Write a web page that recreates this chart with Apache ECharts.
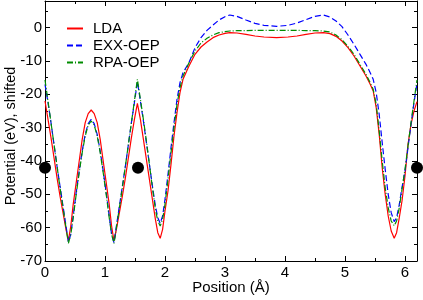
<!DOCTYPE html>
<html><head><meta charset="utf-8">
<script src="https://cdn.jsdelivr.net/npm/echarts@6/dist/echarts.min.js"></script>
<style>html,body{margin:0;padding:0;background:#fff}#c{width:423px;height:300px}</style>
</head><body><div id="c"></div>
<script>
// Position (Å) grid shared by the three curves
const positions = [
  0, 0.05, 0.1, 0.15, 0.2, 0.25, 0.3, 0.35, 0.39, 0.43, 0.47, 0.52, 0.57, 0.62, 0.67, 0.72, 0.77,
  0.82, 0.87, 0.92, 0.97, 1.02, 1.07, 1.11, 1.15, 1.19, 1.24, 1.29, 1.34, 1.39, 1.44, 1.49, 1.54,
  1.59, 1.64, 1.69, 1.74, 1.79, 1.84, 1.88, 1.92, 1.96, 2.0, 2.05, 2.1, 2.15, 2.2, 2.25, 2.3, 2.4, 2.5, 2.6,
  2.7, 2.8, 2.9, 3.0, 3.08, 3.2, 3.35, 3.5, 3.65, 3.86, 4.05, 4.2, 4.35, 4.5, 4.64, 4.75, 4.85, 4.95,
  5.05, 5.15, 5.25, 5.35, 5.42,
  5.47, 5.52, 5.57, 5.62, 5.67, 5.72, 5.77, 5.82, 5.86, 5.9, 5.95, 6.0, 6.05, 6.1, 6.15, 6.2
];
const lda = [
  -22, -27.5, -33, -39, -45, -50.5, -55.5, -60.5, -63.8, -59.5, -53, -46.5, -40, -33.5, -28.5, -25.8, -24.7,
  -25.8, -28.5, -33.5, -40, -46.5, -53, -59.5, -64, -60.5, -55.5, -50.5, -45, -39, -33, -27.5, -22.7,
  -27.5, -33.5, -39.5, -45.5, -51.5, -57.5, -61.5, -63.2, -60.5, -55, -49, -41, -32.5, -25.5, -19.5, -15.5, -11.5, -8, -5.8,
  -4.3, -3.0, -2.2, -1.7, -1.5, -1.6, -2.0, -2.5, -2.8, -3.0, -2.8, -2.5, -2.0, -1.6, -1.5, -1.8, -2.6, -4.0,
  -6.0, -8.5, -11.5, -14.5, -17,
  -19, -24, -32, -42, -50, -56.5, -61, -63.2, -61.5, -57.5, -52, -44.5, -35, -29, -25, -22.2
];
const exx = [
  -17, -22.5, -28.5, -35, -41.5, -47.5, -53.5, -59.5, -64.3, -62, -56.5, -49.5, -43, -37, -32, -28.8, -27.5,
  -28.8, -32, -37, -43, -49.5, -56.5, -62, -64.5, -59.5, -53.5, -47.5, -41.5, -35, -28.5, -22.5, -16.2,
  -22, -28, -34.5, -41, -47.5, -53.5, -57, -58.7, -56.5, -51.5, -44, -36, -28.5, -21.5, -16.5, -13.5, -10.5, -6, -3,
  -0.8, 0.8, 2.3, 3.3, 3.8, 3.4, 2.3, 1.3, 0.7, 0.4, 0.7, 1.4, 2.4, 3.4, 3.8, 3.2, 2.0, 0.3,
  -2.2, -5, -8, -11, -13.5,
  -15.5, -19.5, -26, -34.5, -42.5, -50, -55.5, -58.2, -57, -53.5, -48, -43, -36, -29, -22.5, -16.7
];
const rpa = [
  -15.7, -22, -28.5, -35, -41.5, -48, -54, -60, -64.7, -62, -57, -50, -43.5, -37.5, -32.5, -29.2, -28,
  -29.2, -32.5, -37.5, -43.5, -50, -57, -62, -64.7, -60, -54, -48, -41.5, -35, -28.5, -22, -15.5,
  -21.5, -27.5, -34, -41, -48, -54.5, -58, -59.5, -57.5, -53, -45.5, -37.5, -30, -23, -18, -14.5, -10.5, -7, -4.6,
  -3.2, -2.2, -1.5, -1.2, -1.0, -0.9, -0.9, -0.8, -0.8, -0.8, -0.8, -0.8, -0.9, -0.9, -1.0, -1.3, -2.2, -3.6,
  -5.6, -8, -11, -14, -16.5,
  -18.5, -23, -31, -40, -48, -54, -58, -59.4, -58, -54.5, -48.5, -42.5, -35.5, -28.5, -22, -15.7
];
// atom positions (black dots)
const atomX = [0, 1.55, 6.2];
const atomY = [-42, -42, -42];
// axis ticks
const xTickLabels = [0, 1, 2, 3, 4, 5, 6];
const yTickLabels = [-70, -60, -50, -40, -30, -20, -10, 0];

const FONT = '"Liberation Sans", Arial, Helvetica, sans-serif';
const pairs = ys => positions.map((x, i) => [x, ys[i]]);

function xAx(pos, interval, len, labels, name) {
  return {
    type: 'value', position: pos, min: 0, max: 6.2, interval: interval,
    axisLine: { show: interval === 1, onZero: false, lineStyle: { color: '#000', width: 1 } },
    axisTick: { show: true, inside: true, length: len, lineStyle: { color: '#000', width: 1 } },
    axisLabel: labels ? {
      show: true, fontSize: 15, color: '#000', fontFamily: FONT, margin: 4,
      formatter: v => xTickLabels.indexOf(v) >= 0 ? String(v) : ''
    } : { show: false },
    splitLine: { show: false },
    name: name || '', nameLocation: 'middle', nameGap: 19, nameMoveOverlap: false,
    nameTextStyle: { fontSize: 15, color: '#000', fontFamily: FONT }
  };
}
function yAx(pos, interval, len, labels, name) {
  return {
    type: 'value', position: pos, min: -70, max: 8, interval: interval,
    axisLine: { show: interval === 10, onZero: false, lineStyle: { color: '#000', width: 1 } },
    axisTick: { show: true, inside: true, length: len, lineStyle: { color: '#000', width: 1 } },
    axisLabel: labels ? {
      show: true, fontSize: 15, color: '#000', fontFamily: FONT, margin: 3,
      formatter: v => yTickLabels.indexOf(v) >= 0 ? String(v) : ''
    } : { show: false },
    splitLine: { show: false },
    name: name || '', nameLocation: 'middle', nameGap: 27, nameMoveOverlap: false,
    nameTextStyle: { fontSize: 14.5, color: '#000', fontFamily: FONT, padding: [0, 10, 0, 0] }
  };
}

const chart = echarts.init(document.getElementById('c'), null, { renderer: 'canvas' });
chart.setOption({
  animation: false,
  backgroundColor: '#fff',
  grid: { left: 45, right: 6, top: 1, bottom: 39, containLabel: false, outerBoundsMode: 'none' },
  xAxis: [
    xAx('bottom', 1, 5, true, 'Position (Å)'),
    xAx('bottom', 0.5, 3, false),
    xAx('top', 1, 5, false),
    xAx('top', 0.5, 3, false)
  ],
  yAxis: [
    yAx('left', 10, 5, true, 'Potential (eV), shifted'),
    yAx('left', 5, 3, false),
    yAx('right', 10, 5, false),
    yAx('right', 5, 3, false)
  ],
  legend: {
    orient: 'vertical', left: 66, top: 21, padding: 0,
    itemWidth: 16, itemHeight: 14, itemGap: 2,
    itemStyle: { opacity: 0 },
    data: ['LDA', 'EXX-OEP', 'RPA-OEP'],
    textStyle: { fontSize: 15, color: '#000', fontFamily: FONT, lineHeight: 14, padding: [0, 0, 0, 5] }
  },
  series: [
    { name: 'LDA', type: 'line', data: pairs(lda), showSymbol: false, symbol: 'none',
      lineStyle: { color: '#ff0000', width: 1.2 }, itemStyle: { color: '#ff0000' }, z: 3 },
    { name: 'EXX-OEP', type: 'line', data: pairs(exx), showSymbol: false, symbol: 'none',
      lineStyle: { color: '#0000ff', width: 1.2, type: [6, 3] }, itemStyle: { color: '#0000ff' }, z: 4 },
    { name: 'RPA-OEP', type: 'line', data: pairs(rpa), showSymbol: false, symbol: 'none',
      lineStyle: { color: '#008c00', width: 1.2, type: [6, 2, 1, 2] }, itemStyle: { color: '#008c00' }, z: 5 },
    { name: 'atoms', type: 'scatter', data: atomX.map((x, i) => [x, atomY[i]]),
      symbol: 'circle', symbolSize: 12, itemStyle: { color: '#000', opacity: 1 }, clip: false, z: 6 }
  ]
});
</script>
</body></html>
